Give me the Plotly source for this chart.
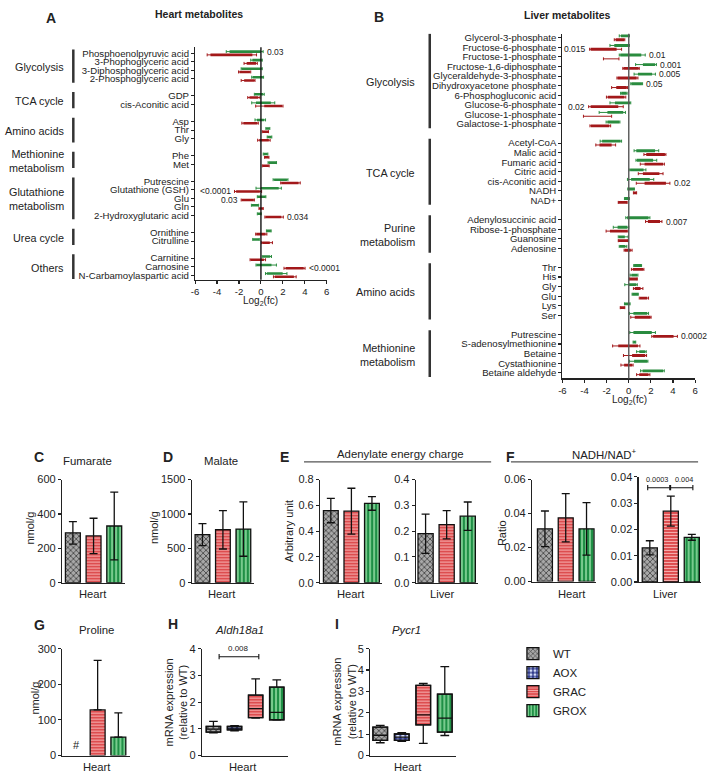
import numpy as np
import plotly.graph_objects as go

FONT = "Liberation Sans, Arial, Helvetica, sans-serif"
TXT = "#222222"
W, H = 709, 780

# ---------------- Panel A: heart metabolites (log2 fold change) ----------------
heart_group_labels = ["Glycolysis", "TCA cycle", "Amino acids", "Methionine<br>metabolism",
                      "Glutathione<br>metabolism", "Urea cycle", "Others"]
heart_members = [
    ["Phosphoenolpyruvic acid", "3-Phophoglyceric acid", "3-Diphosphoglyceric acid", "2-Phosphoglyceric acid"],
    ["GDP", "cis-Aconitic acid"],
    ["Asp", "Thr", "Gly"],
    ["Phe", "Met"],
    ["Putrescine", "Glutathione (GSH)", "Glu", "Gln", "2-Hydroxyglutaric acid"],
    ["Ornithine", "Citrulline"],
    ["Carnitine", "Carnosine", "N-Carbamoylaspartic acid"],
]
heart_grox_lo = [-2.86, -0.78, -1.74, -0.75, -0.54, -0.45, -0.36, 0.48, 0.60, 0.24, 0.70, 1.20, 0.00, -0.30, -0.84, -0.30, 0.54, -0.72, 0.18, -0.39, 0.54]
heart_grox_hi = [0.00, 0.06, 0.06, 0.18, 0.20, 0.90, 0.30, 0.78, 0.96, 0.60, 1.38, 2.37, 1.62, 0.42, -0.24, 0.00, 0.90, -0.18, 0.84, 0.96, 1.98]
heart_grox_wlo = [-3.16, -0.93, -1.80, -0.84, -0.60, -0.84, -0.54, 0.45, 0.57, 0.21, 0.65, 1.11, -0.45, -0.33, -0.87, -0.33, 0.50, -0.75, 0.12, -0.45, 0.42]
heart_grox_whi = [0.20, 0.12, 0.12, 0.24, 0.30, 1.26, 0.42, 0.81, 0.99, 0.63, 1.42, 2.46, 1.86, 0.45, -0.21, 0.03, 0.93, -0.15, 0.96, 1.41, 2.37]
heart_grac_lo = [-4.60, -1.30, -1.95, -1.53, -1.05, 0.30, -1.60, 0.15, -0.15, 0.36, 0.15, 1.86, -2.26, -1.74, -0.15, 0.42, -0.42, 0.12, -0.93, 2.25, 1.26]
heart_grac_hi = [-0.78, -0.45, -1.00, -0.60, -0.24, 1.92, -0.33, 0.66, 0.72, 0.70, 0.72, 3.43, -0.10, -0.66, 0.18, 1.86, 0.42, 0.81, 0.27, 3.90, 3.00]
heart_grac_wlo = [-4.90, -1.54, -2.04, -1.80, -1.20, -0.48, -1.74, 0.12, -0.30, 0.33, 0.12, 1.80, -2.41, -1.80, -0.18, 0.36, -0.48, 0.06, -0.99, 2.10, 1.14]
heart_grac_whi = [-0.40, -0.33, -0.93, -0.54, -0.09, 2.01, -0.24, 0.69, 0.84, 0.73, 0.75, 3.58, 0.06, -0.60, 0.21, 2.04, 0.54, 1.05, 0.42, 4.02, 3.21]
heart_pvals = [("Phosphoenolpyruvic acid", "0.03", "grox", "right"),
               ("Glutathione (GSH)", "<0.0001", "grac", "left"),
               ("Glu", "0.03", "grac", "left"),
               ("2-Hydroxyglutaric acid", "0.034", "grac", "right"),
               ("Carnosine", "<0.0001", "grac", "right")]

# ---------------- Panel B: liver metabolites ----------------
liver_group_labels = ["Glycolysis", "TCA cycle", "Purine<br>metabolism", "Amino acids", "Methionine<br>metabolism"]
liver_members = [
    ["Glycerol-3-phosphate", "Fructose-6-phosphate", "Fructose-1-phosphate", "Fructose-1,6-diphosphate",
     "Glyceraldehyde-3-phosphate", "Dihydroxyacetone phosphate", "6-Phosphogluconic acid",
     "Glucose-6-phosphate", "Glucose-1-phosphate", "Galactose-1-phosphate"],
    ["Acetyl-CoA", "Malic acid", "Fumaric acid", "Citric acid", "cis-Aconitic acid", "NADH", "NAD+"],
    ["Adenylosuccinic acid", "Ribose-1-phosphate", "Guanosine", "Adenosine"],
    ["Thr", "His", "Gly", "Glu", "Lys", "Ser"],
    ["Putrescine", "S-adenosylmethionine", "Betaine", "Cystathionine", "Betaine aldehyde"],
]
liver_grox_lo = [-0.71, -1.31, -0.77, 1.28, 0.83, 0.24, -0.68, -1.25, -1.93, -1.93,
                 -2.41, 0.68, 0.74, 0.12, 0.21, -0.06, -0.36,
                 -0.15, -1.01, -0.89, -0.80,
                 0.48, 0.24, 0.00, 0.33, -0.36, 0.42,
                 0.42, 0.42, 0.95, 0.48, 1.25]
liver_grox_hi = [0.00, 0.00, 1.13, 2.38, 2.11, 1.19, -0.20, 0.12, -0.50, -0.86,
                 -0.74, 2.38, 2.20, 1.34, 1.90, 0.48, 0.03,
                 1.79, -0.12, -0.36, -0.30,
                 1.13, 0.77, 0.68, 0.83, 0.09, 1.67,
                 2.08, 0.60, 1.49, 1.67, 3.10]
liver_grox_wlo = [-0.86, -1.70, -0.86, 0.62, 0.48, 0.18, -0.74, -1.70, -2.68, -2.05,
                  -2.59, 0.48, 0.65, 0.03, -0.12, -0.09, -0.39,
                  -0.27, -1.40, -0.95, -0.86,
                  0.45, 0.12, -0.36, 0.30, -0.39, 0.06,
                  0.09, 0.39, 0.71, 0.06, 1.07]
liver_grox_whi = [0.06, 0.06, 1.49, 2.50, 2.41, 1.25, -0.15, 0.18, -0.30, -0.80,
                  -0.65, 2.71, 2.53, 1.55, 2.26, 0.51, 0.06,
                  1.91, 0.00, -0.06, -0.18,
                  1.16, 0.83, 0.77, 0.86, 0.12, 1.79,
                  2.41, 0.63, 1.58, 1.73, 3.21]
liver_grac_lo = [-1.19, -3.45, -1.60, -0.48, -1.00, -1.13, -1.90, -3.45, -2.80, -3.42,
                 -2.65, 1.58, 1.43, 1.28, 1.43, 0.42, -0.95,
                 1.73, -1.70, -0.95, -0.36,
                 0.36, 0.03, 0.54, 1.01, -0.77, 0.54,
                 2.20, -0.95, 0.30, -0.42, 0.95]
liver_grac_hi = [-0.42, -1.10, -1.60, 0.89, 0.71, -0.18, -0.39, -0.95, -2.80, -1.76,
                 -1.55, 3.27, 3.10, 2.77, 3.36, 0.71, -0.15,
                 2.83, -0.12, -0.06, 0.18,
                 1.31, 0.77, 1.07, 1.67, -0.36, 1.96,
                 4.05, 0.83, 1.49, 0.30, 1.79]
liver_grac_wlo = [-1.31, -3.54, -2.29, -0.54, -1.07, -1.55, -2.02, -3.63, -4.10, -3.51,
                  -2.98, 1.37, 1.04, 0.86, 0.68, 0.42, -0.95,
                  1.52, -2.05, -0.95, -0.42,
                  0.24, 0.03, 0.42, 0.95, -0.77, 0.18,
                  2.08, -1.46, -0.48, -0.71, 0.71]
liver_grac_whi = [-0.36, -0.65, -0.89, 0.95, 0.83, -0.12, -0.27, -0.50, -1.55, -1.64,
                  -1.19, 3.36, 3.22, 3.10, 3.72, 0.71, -0.15,
                  3.00, -0.06, -0.06, 0.30,
                  1.37, 0.77, 1.28, 1.79, -0.36, 2.02,
                  4.40, 1.01, 1.61, 0.39, 1.91]
liver_pvals = [("Fructose-6-phosphate", "0.015", "grac", "left"),
               ("Fructose-1-phosphate", "0.01", "grox", "right"),
               ("Fructose-1,6-diphosphate", "0.001", "grox", "right"),
               ("Glyceraldehyde-3-phosphate", "0.005", "grox", "right"),
               ("Dihydroxyacetone phosphate", "0.05", "grox", "right"),
               ("Glucose-6-phosphate", "0.02", "grac", "left"),
               ("cis-Aconitic acid", "0.02", "grac", "right"),
               ("Adenylosuccinic acid", "0.007", "grac", "right"),
               ("Putrescine", "0.0002", "grac", "right")]
fc_ticks = [-6, -4, -2, 0, 2, 4, 6]

# ---------------- Panels C-G: bar charts (mean ± SD) ----------------
bar_groups = ["WT", "GRAC", "GROX"]
fumarate_mean = [290, 272, 330]
fumarate_sd = [65, 103, 197]
malate_mean = [700, 770, 780]
malate_sd = [160, 280, 395]
aec_heart_mean = [0.56, 0.555, 0.615]
aec_heart_sd = [0.095, 0.178, 0.053]
aec_liver_mean = [0.19, 0.225, 0.258]
aec_liver_sd = [0.076, 0.055, 0.055]
nadh_heart_mean = [0.031, 0.0375, 0.031]
nadh_heart_sd = [0.0105, 0.0142, 0.0155]
nadh_liver_mean = [0.013, 0.027, 0.017]
nadh_liver_sd = [0.0027, 0.0057, 0.0011]
proline_mean = [None, 128, 52]
proline_sd = [None, 139, 68]

# ---------------- Panels H-I: box plots ----------------
box_groups = ["WT", "AOX", "GRAC", "GROX"]
aldh_low = [0.85, 0.93, 1.40, 1.33]
aldh_q1 = [0.88, 0.96, 1.42, 1.34]
aldh_med = [0.99, 1.03, 1.76, 1.62]
aldh_q3 = [1.09, 1.09, 2.26, 2.56]
aldh_high = [1.28, 1.12, 2.87, 2.83]
pycr_low = [0.60, 0.67, 0.57, 0.94]
pycr_q1 = [0.71, 0.71, 1.44, 1.10]
pycr_med = [0.95, 0.86, 1.90, 1.75]
pycr_q3 = [1.33, 1.01, 3.28, 2.87]
pycr_high = [1.41, 1.07, 3.37, 4.16]

# ---------------- styles ----------------
GREEN = "#2a8c3f"
RED = "#a3191b"
PAT = {
    "WT": dict(shape="x", bgcolor="#a8a8a8", fgcolor="#3c3c3c", size=4, solidity=0.35),
    "AOX": dict(shape=".", bgcolor="#2b3688", fgcolor="#d6def8", size=5, solidity=0.45),
    "GRAC": dict(shape="-", bgcolor="#d8383b", fgcolor="#f6b0b0", size=3, solidity=0.45),
    "GROX": dict(shape="|", bgcolor="#1e8f45", fgcolor="#8fd9a0", size=4, solidity=0.4),
}

fig = go.Figure()
annotations, shapes = [], []
layout_axes = {}


def ax(letter, k):
    return letter if k == 1 else f"{letter}{k}"


def axname(letter, k):
    return f"{letter}axis" if k == 1 else f"{letter}axis{k}"


def add_axes(k, x0, x1, y0, y1, xr, yr, xkw=None, ykw=None, fs=11):
    base = dict(showline=True, linecolor="#222", linewidth=1.2, ticks="outside", ticklen=3,
                tickwidth=1.1, tickcolor="#222", showgrid=False, zeroline=False,
                tickfont=dict(size=fs, color=TXT, family=FONT), fixedrange=True)
    xa = dict(base, domain=[x0 / W, x1 / W], anchor=ax("y", k), range=xr)
    ya = dict(base, domain=[1 - y1 / H, 1 - y0 / H], anchor=ax("x", k), range=yr)
    xa.update(xkw or {})
    ya.update(ykw or {})
    layout_axes[axname("x", k)] = xa
    layout_axes[axname("y", k)] = ya


def text(xp, yp, s, size=11, bold=False, angle=0, xanchor="center", italic=False, color=TXT):
    if bold:
        s = f"<b>{s}</b>"
    if italic:
        s = f"<i>{s}</i>"
    annotations.append(dict(xref="paper", yref="paper", x=xp / W, y=1 - yp / H, text=s,
                            showarrow=False, xanchor=xanchor, yanchor="middle", textangle=angle,
                            font=dict(size=size, color=color, family=FONT)))


def row_positions(members):
    pos, spans, r = [], [], 0
    for m in members:
        start = r
        for _ in m:
            pos.append(r)
            r += 1
        spans.append((start, r - 1))
        r += 1
    return np.array(pos, float), spans


def fc_panel(k, members, group_labels, grox, grac, pvals, label_x, bar_x, zero_color, off):
    names = [n for m in members for n in m]
    pos, spans = row_positions(members)
    series = {}
    for key, d, color, o in (("grox", grox, GREEN, -off), ("grac", grac, RED, off)):
        lo, hi, wlo, whi = (np.array(v, float) for v in d)
        y = pos + o
        c = (lo + hi) / 2
        fig.add_trace(go.Bar(orientation="h", y=y, x=hi - lo, base=lo, width=0.3,
                             marker=dict(color=color, line=dict(width=0)),
                             xaxis=ax("x", k), yaxis=ax("y", k), showlegend=False, hoverinfo="skip"))
        fig.add_trace(go.Scatter(x=c, y=y, mode="markers", marker=dict(size=1, color="rgba(0,0,0,0)"),
                                 error_x=dict(type="data", symmetric=False, array=whi - c,
                                              arrayminus=c - wlo, color=color, thickness=1, width=1.5),
                                 xaxis=ax("x", k), yaxis=ax("y", k), showlegend=False, hoverinfo="skip"))
        series[key] = dict(wlo=wlo, whi=whi, off=o)
    shapes.append(dict(type="line", xref=ax("x", k), yref=f"{ax('y', k)} domain", x0=0, x1=0, y0=0, y1=1,
                       line=dict(color=zero_color, width=1.4), layer="above"))
    for name, s, key, side in pvals:
        i = names.index(name)
        sr = series[key]
        if side == "right":
            x, xa = sr["whi"][i] + 0.15, "left"
        else:
            x, xa = sr["wlo"][i] - 0.12, "right"
        annotations.append(dict(xref=ax("x", k), yref=ax("y", k), x=x, y=pos[i] + sr["off"], text=s,
                                showarrow=False, xanchor=xa, yanchor="middle",
                                font=dict(size=8.5, color=TXT, family=FONT)))
    for lab, (a, b) in zip(group_labels, spans):
        shapes.append(dict(type="line", xref="paper", yref=ax("y", k), x0=bar_x / W, x1=bar_x / W,
                           y0=a - 0.45, y1=b + 0.45, line=dict(color="#333", width=2.5)))
        annotations.append(dict(xref="paper", yref=ax("y", k), x=label_x / W, y=(a + b) / 2 + 0.1,
                                text=lab, showarrow=False, xanchor="right", yanchor="middle",
                                align="right", font=dict(size=10.8, color=TXT, family=FONT)))
    return names, pos


# ----- Panel A -----
add_axes(1, 193, 326, 42, 278, [-6, 6], [26.53, -0.69],
         xkw=dict(tickvals=fc_ticks, ticktext=[str(v) for v in fc_ticks]), fs=9.6)
namesA, posA = fc_panel(1, heart_members, heart_group_labels,
                        (heart_grox_lo, heart_grox_hi, heart_grox_wlo, heart_grox_whi),
                        (heart_grac_lo, heart_grac_hi, heart_grac_wlo, heart_grac_whi),
                        heart_pvals, 63, 70, "#111", 0.19)
layout_axes["yaxis"].update(tickvals=list(posA), ticktext=namesA)

# ----- Panel B -----
add_axes(2, 564, 698, 28.3, 378.3, [-6, 6], [35.6, -0.41],
         xkw=dict(tickvals=fc_ticks, ticktext=[str(v) for v in fc_ticks]), fs=9.6)
namesB, posB = fc_panel(2, liver_members, liver_group_labels,
                        (liver_grox_lo, liver_grox_hi, liver_grox_wlo, liver_grox_whi),
                        (liver_grac_lo, liver_grac_hi, liver_grac_wlo, liver_grac_whi),
                        liver_pvals, 417, 430, "#555", 0.2)
layout_axes["yaxis2"].update(tickvals=list(posB), ticktext=namesB)

text(47, 12, "A", 14, bold=True)
text(197, 8, "Heart metabolites", 10.5, bold=True)
text(379, 11, "B", 14, bold=True)
text(569, 9, "Liver metabolites", 10.5, bold=True)
text(259.5, 300, "Log<sub>2</sub>(fc)", 10)
text(631.5, 400, "Log<sub>2</sub>(fc)", 10)


# ----- bar panels -----
def bar_panel(k, groups, mean, sd, only_up=False):
    pats = [PAT[g] for g in groups]
    pattern = dict(shape=[p["shape"] for p in pats], bgcolor=[p["bgcolor"] for p in pats],
                   fgcolor=[p["fgcolor"] for p in pats], size=[p["size"] for p in pats],
                   solidity=[p["solidity"] for p in pats], fillmode="replace")
    err = dict(type="data", array=sd, color="#111", thickness=1.3, width=4)
    if only_up:
        err.update(symmetric=False, arrayminus=[0 for _ in sd])
    fig.add_trace(go.Bar(x=list(range(len(groups))), y=mean, width=0.72,
                         marker=dict(pattern=pattern, line=dict(color="#111", width=1.3)),
                         error_y=err, xaxis=ax("x", k), yaxis=ax("y", k),
                         showlegend=False, hoverinfo="skip"))


nox = dict(tickvals=[], ticks="", showticklabels=False)
add_axes(3, 58.7, 122, 481, 585.7, [-0.52, 2.51], [0, 600], xkw=nox, ykw=dict(tickvals=[0, 200, 400, 600]))
bar_panel(3, bar_groups, fumarate_mean, fumarate_sd)
add_axes(4, 189.7, 252.3, 481, 585.7, [-0.52, 2.51], [0, 1500], xkw=nox, ykw=dict(tickvals=[0, 500, 1000, 1500]))
bar_panel(4, bar_groups, malate_mean, malate_sd)
add_axes(5, 319.3, 382, 481, 585.7, [-0.52, 2.5], [0, 0.8], xkw=nox,
         ykw=dict(tickvals=[0, 0.2, 0.4, 0.6, 0.8], tickformat=".1f"))
bar_panel(5, bar_groups, aec_heart_mean, aec_heart_sd)
add_axes(6, 416, 479, 481, 585.7, [-0.46, 2.5], [0, 0.4], xkw=nox,
         ykw=dict(tickvals=[0, 0.1, 0.2, 0.3, 0.4], tickformat=".1f"))
bar_panel(6, bar_groups, aec_liver_mean, aec_liver_sd)
add_axes(7, 533.3, 598, 481, 584.5, [-0.62, 2.46], [0, 0.06], xkw=nox,
         ykw=dict(tickvals=[0, 0.02, 0.04, 0.06], tickformat=".2f"))
bar_panel(7, bar_groups, nadh_heart_mean, nadh_heart_sd)
add_axes(8, 641, 704, 478.3, 585, [-0.53, 2.44], [0, 0.04], xkw=nox,
         ykw=dict(tickvals=[0, 0.01, 0.02, 0.03, 0.04], tickformat=".2f"))
bar_panel(8, bar_groups, nadh_liver_mean, nadh_liver_sd)
add_axes(9, 59, 127, 652.7, 761.3, [-0.7, 2.55], [0, 300], xkw=nox, ykw=dict(tickvals=[0, 100, 200, 300]))
bar_panel(9, bar_groups, proline_mean, proline_sd, only_up=True)
annotations.append(dict(xref="x9", yref="y9", x=0, y=0, text="#", showarrow=False, yanchor="bottom",
                        yshift=3, font=dict(size=11, color=TXT, family=FONT)))


# ----- box panels -----
def box_panel(k, groups, low, q1, med, q3, high, legend):
    xs = list(range(len(groups)))
    for i, g in enumerate(groups):
        p = PAT[g]
        fig.add_trace(go.Bar(x=[i], y=[q3[i] - q1[i]], base=[q1[i]], width=0.68, name=g,
                             marker=dict(pattern=dict(p, fillmode="replace"),
                                         line=dict(color="#111", width=1.3)),
                             xaxis=ax("x", k), yaxis=ax("y", k), showlegend=legend,
                             hoverinfo="skip", legendrank=i + 1))
    fig.add_trace(go.Box(x=xs, q1=q1, median=med, q3=q3, lowerfence=low, upperfence=high,
                         width=0.68, fillcolor="rgba(0,0,0,0)", line=dict(color="#111", width=1.3),
                         whiskerwidth=0.6, boxpoints=False, xaxis=ax("x", k), yaxis=ax("y", k),
                         showlegend=False, hoverinfo="skip"))


add_axes(10, 200, 287, 652.7, 761.3, [-0.54, 3.54], [0, 4], xkw=nox, ykw=dict(tickvals=[0, 1, 2, 3, 4]))
box_panel(10, box_groups, aldh_low, aldh_q1, aldh_med, aldh_q3, aldh_high, False)
add_axes(11, 370, 456.7, 652.7, 761.3, [-0.46, 3.53], [0, 5], xkw=nox, ykw=dict(tickvals=[0, 1, 2, 3, 4, 5]))
box_panel(11, box_groups, pycr_low, pycr_q1, pycr_med, pycr_q3, pycr_high, True)


def bracket(k, x0, x1, y, tick):
    shapes.append(dict(type="line", xref=ax("x", k), yref=ax("y", k), x0=x0, x1=x1, y0=y, y1=y,
                       line=dict(color="#111", width=1.1)))
    for xv in (x0, x1):
        shapes.append(dict(type="line", xref=ax("x", k), yref=ax("y", k), x0=xv, x1=xv,
                           y0=y - tick, y1=y + tick, line=dict(color="#111", width=1.1)))


def small_label(k, x, y, s, size=8):
    annotations.append(dict(xref=ax("x", k), yref=ax("y", k), x=x, y=y, text=s, showarrow=False,
                            yanchor="bottom", yshift=2, font=dict(size=size, color=TXT, family=FONT)))


bracket(10, 0.27, 2.15, 3.7, 0.1)
small_label(10, 1.21, 3.7, "0.008")
bracket(8, -0.1, 0.95, 0.0359, 0.001)
bracket(8, 0.99, 2.05, 0.0359, 0.001)
small_label(8, 0.33, 0.0359, "0.0003", 7.3)
small_label(8, 1.62, 0.0359, "0.004", 7.3)

# lower panel texts
text(35.7, 457.7, "C", 14, bold=True)
text(84, 461.7, "Fumarate", 11.4)
text(166, 458, "D", 14, bold=True)
text(219, 462, "Malate", 11.4)
text(283, 458, "E", 14, bold=True)
text(400, 455, "Adenylate energy charge", 11.4)
text(512, 458, "F", 14, bold=True)
text(606, 455, "NADH/NAD<sup>+</sup>", 11.4)
shapes.append(dict(type="line", xref="paper", yref="paper", x0=303 / W, x1=492 / W, y0=1 - 463 / H,
                   y1=1 - 463 / H, line=dict(color="#555", width=1.2)))
shapes.append(dict(type="line", xref="paper", yref="paper", x0=512 / W, x1=701 / W, y0=1 - 463 / H,
                   y1=1 - 463 / H, line=dict(color="#555", width=1.2)))
text(26, 530, "nmol/g", 11, angle=-90)
text(151.7, 530, "nmol/g", 11, angle=-90)
text(287.3, 533, "Arbitrary unit", 11, angle=-90)
text(502.3, 535, "Ratio", 11, angle=-90)
for xp, s in ((89.7, "Heart"), (220, "Heart"), (350.5, "Heart"), (442.5, "Liver"), (574, "Heart"), (668, "Liver")):
    text(xp, 597, s, 11.2)

text(35.7, 628.3, "G", 14, bold=True)
text(93.3, 634, "Proline", 11.4)
text(170.8, 628, "H", 14, bold=True)
text(237.5, 634, "Aldh18a1", 11.4, italic=True)
text(336.7, 628, "I", 14, bold=True)
text(407, 633.3, "Pycr1", 11.4, italic=True)
text(31.7, 703, "nmol/g", 11, angle=-90)
text(174, 707, "mRNA expression<br>(relative to WT)", 11, angle=-90)
text(344, 707, "mRNA expression<br>(relative to WT)", 11, angle=-90)
for xp, s in ((94, "Heart"), (241.8, "Heart"), (408, "Heart")):
    text(xp, 773, s, 11.2)

fig.update_layout(
    width=W, height=H, margin=dict(l=0, r=0, t=0, b=0),
    paper_bgcolor="white", plot_bgcolor="white",
    font=dict(family=FONT, color=TXT),
    barmode="overlay", boxmode="overlay",
    showlegend=True,
    legend=dict(x=514 / W, y=1 - 643 / H, xanchor="left", yanchor="top", bgcolor="rgba(0,0,0,0)",
                font=dict(size=11.5, color=TXT, family=FONT), tracegroupgap=0, itemwidth=30,
                traceorder="normal"),
    annotations=annotations, shapes=shapes,
    **layout_axes,
)

fig.write_html("out.html", config={"displayModeBar": False, "staticPlot": True},
               post_script="document.body.style.margin='0';document.body.style.padding='0';")
